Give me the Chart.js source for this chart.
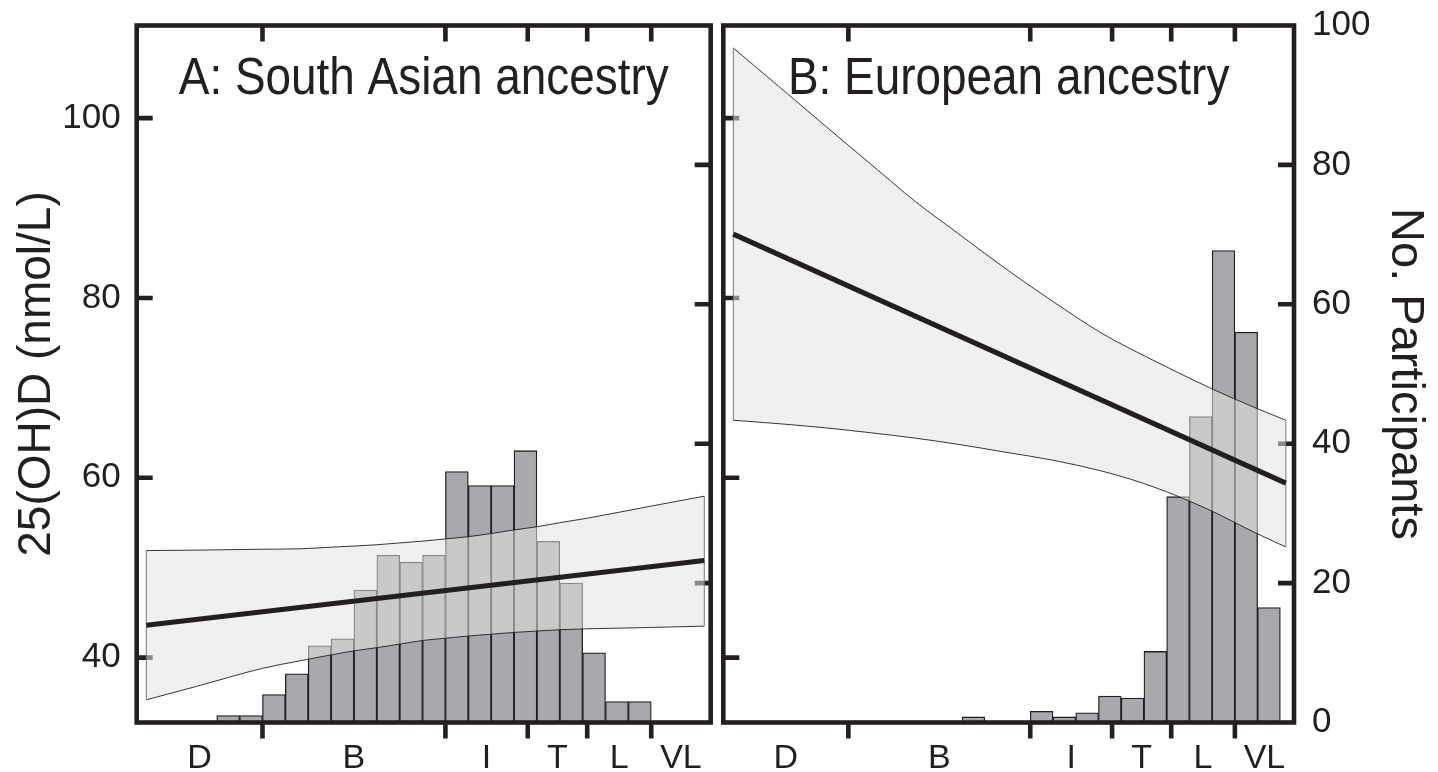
<!DOCTYPE html>
<html>
<head>
<meta charset="utf-8">
<script src="https://cdn.jsdelivr.net/npm/chart.js@4.4.1/dist/chart.umd.min.js"></script>
<style>
  html, body { margin: 0; padding: 0; background: #fff; }
  #wrap { position: relative; width: 1438px; height: 772px; overflow: hidden; }
  canvas { position: absolute; top: 0; }
  #panelA { left: 0; }
  #panelB { left: 717px; }
</style>
</head>
<body>
<div id="wrap">
  <canvas id="panelA" width="717" height="772"></canvas>
  <canvas id="panelB" width="721" height="772"></canvas>
</div>
<script>
// Skin colour categories along the ITA° axis and the cut-points between them
const skinCategories = ['D', 'B', 'I', 'T', 'L', 'VL'];
const categoryCuts = [-30, 10, 28, 41, 55];
const itaMin = -57.5;
const itaMax = 68;

// Axis ticks
const vitDTicks = [40, 60, 80, 100];          // 25(OH)D, nmol/L (left axis)
const countTicks = [0, 20, 40, 60, 80, 100];  // participants (right axis)

// Histograms of ITA° (5° bins, value = bin start)
const binWidth = 5;
const saBinStarts = [-40, -35, -30, -25, -20, -15, -10, -5, 0, 5, 10, 15, 20, 25, 30, 35, 40, 45, 50];
const saCounts    = [1, 1, 4, 7, 11, 12, 19, 24, 23, 24, 36, 34, 34, 39, 26, 20, 10, 3, 3];
const euBinStarts = [-5, 10, 15, 20, 25, 30, 35, 40, 45, 50, 55, 60];
const euCounts    = [0.8, 1.6, 0.8, 1.4, 3.8, 3.5, 10.2, 32.4, 43.9, 67.7, 56.0, 16.5];

// Fitted 25(OH)D vs ITA° with its confidence band - South Asian ancestry
const saFitX = [-55.4, 66.6];
const saFitY = [43.6, 50.8];
const saBandX     = [-55.4, -44.4, -30, -21.7, -15, -10, -5, 0, 5, 10, 15, 20, 25, 30, 35, 41, 55, 66.6];
const saBandUpper = [51.9, 51.95, 52.05, 52.1, 52.28, 52.4, 52.55, 52.75, 52.95, 53.2, 53.45, 53.8, 54.2, 54.55, 55.0, 55.5, 56.85, 57.95];
const saBandLower = [35.3, 36.8, 38.8, 39.65, 40.3, 40.75, 41.1, 41.5, 41.9, 42.15, 42.4, 42.6, 42.8, 42.95, 43.1, 43.2, 43.35, 43.5];

// Fitted 25(OH)D vs ITA° with its confidence band - European ancestry
const euFitX = [-55.3, 66.2];
const euFitY = [87.1, 59.4];
const euBandX     = [-55.3, -45, -35, -25, -15.2, -5, 3.9, 15, 25.3, 32, 39.7, 49.9, 59.4, 66.2];
const euBandUpper = [107.8, 103.4, 99.1, 94.85, 90.7, 86.85, 83.5, 79.6, 76.2, 74.35, 72.4, 69.9, 67.8, 66.4];
const euBandLower = [66.4, 66.0, 65.55, 65.0, 64.4, 63.65, 62.9, 61.95, 60.8, 59.85, 58.5, 56.3, 53.9, 52.3];

const INK = '#231f20';
const BAR_FILL = '#a7a9ac';
const BAND_FILL = 'rgba(228,228,228,0.55)';
const FONT = '"Liberation Sans", Arial, Helvetica, sans-serif';

// Category labels sit in the middle of each ITA° range
const rangeEdges = [itaMin, ...categoryCuts, itaMax];
const labelCenters = skinCategories.map((_, i) => (rangeEdges[i] + rangeEdges[i + 1]) / 2);

// Box frame, inward tick marks and the panel heading
const framePlugin = {
  id: 'frame',
  beforeDatasetsDraw(chart) {
    const { ctx, chartArea: a, scales } = chart;
    const len = 16;
    ctx.save();
    ctx.strokeStyle = INK;
    ctx.lineWidth = 4.6;
    ctx.lineCap = 'butt';
    ctx.beginPath();
    vitDTicks.forEach(v => {
      const y = scales.y.getPixelForValue(v);
      ctx.moveTo(a.left, y); ctx.lineTo(a.left + len, y);
    });
    countTicks.slice(1, -1).forEach(v => {
      const y = scales.y2.getPixelForValue(v);
      ctx.moveTo(a.right, y); ctx.lineTo(a.right - len, y);
    });
    categoryCuts.forEach(v => {
      const x = scales.x.getPixelForValue(v);
      ctx.moveTo(x, a.top); ctx.lineTo(x, a.top + len);
      ctx.moveTo(x, a.bottom); ctx.lineTo(x, a.bottom + len);
    });
    ctx.stroke();
    ctx.restore();
  },
  afterDatasetsDraw(chart, args, opts) {
    const { ctx, chartArea: a } = chart;
    ctx.save();
    ctx.strokeStyle = INK;
    ctx.lineWidth = 4.6;
    ctx.strokeRect(a.left, a.top, a.right - a.left, a.bottom - a.top);
    // heading set in a slightly condensed face
    ctx.fillStyle = INK;
    ctx.font = `51px ${FONT}`;
    ctx.textAlign = 'center';
    ctx.textBaseline = 'alphabetic';
    ctx.translate((a.left + a.right) / 2, a.top + 68);
    ctx.scale(0.9, 1);
    ctx.fillText(opts.heading, 0, 0);
    ctx.restore();
  }
};

function histogram(starts, counts) {
  return starts
    .map((s, i) => ({ x: s + binWidth / 2, y: counts[i] }))
    .filter(p => p.y > 0);
}
function pairs(xs, ys) { return xs.map((x, i) => ({ x, y: ys[i] })); }

// Fixed axis box sizes; label overhang must not shrink the plot area
function fixBox(size, key) {
  return s => {
    s[key] = size;
    s.paddingTop = 0; s.paddingBottom = 0; s.paddingLeft = 0; s.paddingRight = 0;
  };
}

function buildPanel(canvasId, cfg) {
  const last = cfg.bandX.length - 1;
  const datasets = [
    {
      type: 'line', label: 'fit', yAxisID: 'y', order: 0,
      data: pairs(cfg.fitX, cfg.fitY),
      borderColor: INK, borderWidth: 5, pointRadius: 0, fill: false
    },
    {
      type: 'line', label: 'band start', yAxisID: 'y', order: 1,
      data: [{ x: cfg.bandX[0], y: cfg.bandLower[0] }, { x: cfg.bandX[0], y: cfg.bandUpper[0] }],
      borderColor: '#77787b', borderWidth: 1, pointRadius: 0, fill: false
    },
    {
      type: 'line', label: 'band end', yAxisID: 'y', order: 1,
      data: [{ x: cfg.bandX[last], y: cfg.bandLower[last] }, { x: cfg.bandX[last], y: cfg.bandUpper[last] }],
      borderColor: '#77787b', borderWidth: 1, pointRadius: 0, fill: false
    },
    {
      type: 'line', label: 'upper', yAxisID: 'y', order: 3,
      data: pairs(cfg.bandX, cfg.bandUpper),
      borderColor: INK, borderWidth: 0.9, pointRadius: 0,
      fill: '+1', backgroundColor: BAND_FILL,
      cubicInterpolationMode: 'monotone'
    },
    {
      type: 'line', label: 'lower', yAxisID: 'y', order: 2,
      data: pairs(cfg.bandX, cfg.bandLower),
      borderColor: INK, borderWidth: 0.9, pointRadius: 0, fill: false,
      cubicInterpolationMode: 'monotone'
    },
    {
      type: 'bar', label: 'participants', yAxisID: 'y2', order: 4,
      data: histogram(cfg.binStarts, cfg.counts),
      backgroundColor: BAR_FILL, borderColor: INK, borderWidth: 1.3,
      barPercentage: 1, categoryPercentage: 1, grouped: false
    }
  ];

  return new Chart(document.getElementById(canvasId), {
    type: 'line',
    data: { datasets },
    plugins: [framePlugin],
    options: {
      responsive: false,
      devicePixelRatio: 1,
      animation: false,
      events: [],
      layout: { padding: cfg.padding },
      plugins: {
        legend: { display: false },
        tooltip: { enabled: false },
        frame: { heading: cfg.heading }
      },
      scales: {
        x: {
          type: 'linear', position: 'bottom', min: itaMin, max: itaMax, offset: false,
          afterBuildTicks: s => { s.ticks = labelCenters.map(v => ({ value: v })); },
          afterFit: fixBox(49.5, 'height'),
          grid: { display: false, drawTicks: false },
          border: { display: false },
          ticks: {
            autoSkip: false, maxRotation: 0, minRotation: 0, padding: 16,
            color: INK, font: { size: 34, family: FONT },
            callback: (v, i) => skinCategories[i]
          }
        },
        y: {
          type: 'linear', position: 'left', min: 32.78, max: 110.3,
          display: cfg.showLeft,
          afterBuildTicks: s => { s.ticks = vitDTicks.map(v => ({ value: v })); },
          afterFit: fixBox(cfg.showLeft ? 136.7 : 0, 'width'),
          grid: { display: false, drawTicks: false },
          border: { display: false },
          ticks: { padding: 16, color: INK, font: { size: 35, family: FONT } },
          title: {
            display: true, text: '25(OH)D (nmol/L)', color: INK,
            font: { size: 46, family: FONT }, padding: { top: 10, bottom: 0 }
          }
        },
        y2: {
          type: 'linear', position: 'right', min: 0, max: 100,
          display: cfg.showRight,
          afterBuildTicks: s => { s.ticks = countTicks.map(v => ({ value: v })); },
          afterFit: fixBox(cfg.showRight ? 144 : 0, 'width'),
          grid: { display: false, drawTicks: false },
          border: { display: false },
          ticks: { padding: 18, color: INK, font: { size: 35, family: FONT } },
          title: {
            display: true, text: 'No. Participants', color: INK,
            font: { size: 47, family: FONT }, padding: { top: 5, bottom: 0 }
          }
        }
      }
    }
  });
}

buildPanel('panelA', {
  heading: 'A: South Asian ancestry',
  showLeft: true, showRight: false,
  padding: { top: 25.5, right: 6.3, left: 0, bottom: 0 },
  binStarts: saBinStarts, counts: saCounts,
  fitX: saFitX, fitY: saFitY,
  bandX: saBandX, bandUpper: saBandUpper, bandLower: saBandLower
});

buildPanel('panelB', {
  heading: 'B: European ancestry',
  showLeft: false, showRight: true,
  padding: { top: 25.5, right: 0, left: 6.3, bottom: 0 },
  binStarts: euBinStarts, counts: euCounts,
  fitX: euFitX, fitY: euFitY,
  bandX: euBandX, bandUpper: euBandUpper, bandLower: euBandLower
});
</script>
</body>
</html>
